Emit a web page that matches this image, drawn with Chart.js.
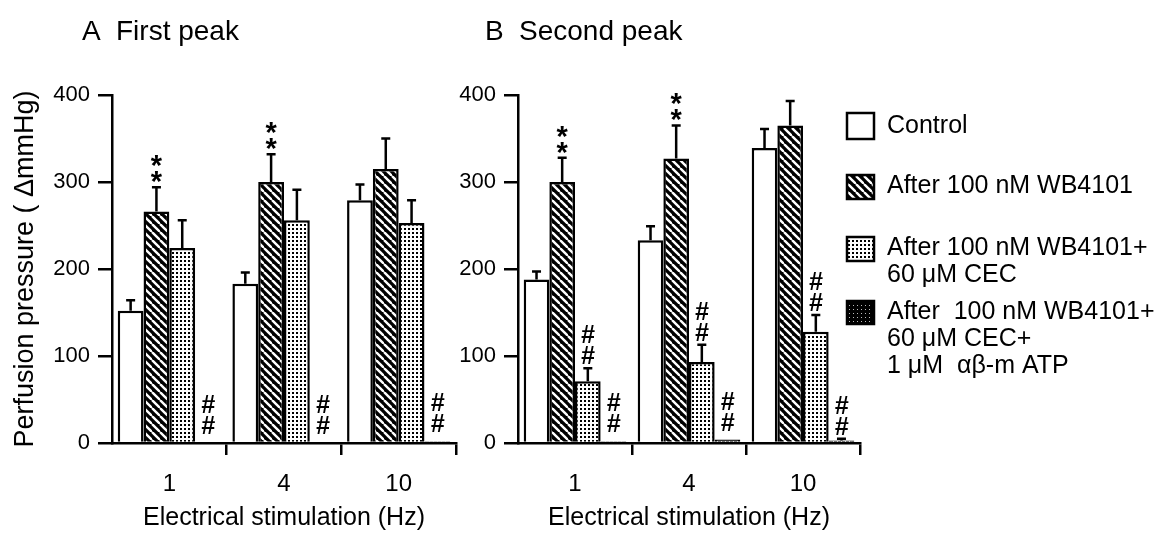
<!DOCTYPE html>
<html><head><meta charset="utf-8">
<script src="https://cdn.jsdelivr.net/npm/chart.js@4/dist/chart.umd.min.js"></script>
<style>
html,body{margin:0;padding:0;background:#fff;}
#wrap{position:relative;width:1158px;height:533px;overflow:hidden;background:#fff;}
canvas{position:absolute;top:0;}
#cA{left:0;} #cB{left:440px;}
</style></head><body>
<div id="wrap"><canvas id="cA" width="480" height="533"></canvas><canvas id="cB" width="718" height="533"></canvas></div>
<script>
// ---- data ----
const categories = ['1', '4', '10'];
const yTicks = [0, 100, 200, 300, 400];
const seriesNames = ['Control', 'After 100 nM WB4101', 'After 100 nM WB4101+ 60 μM CEC', 'After 100 nM WB4101+ 60 μM CEC+ 1 μM αβ-m ATP'];
const legendLines = [
  ['Control'],
  ['After 100 nM WB4101'],
  ['After 100 nM WB4101+', '60 μM CEC'],
  ['After  100 nM WB4101+', '60 μM CEC+', '1 μM  αβ-m ATP']
];
const titleA = ['A', 'First peak'];
const titleB = ['B', 'Second peak'];
const yTitle = 'Perfusion pressure ( ΔmmHg)';
const xTitle = 'Electrical stimulation (Hz)';

// Panel A: first peak
const A_control = [152, 183, 279];
const A_controlErr = [12, 13, 18];
const A_wb = [266, 300, 315];
const A_wbErr = [28, 32, 35];
const A_cec = [224, 256, 253];
const A_cecErr = [32, 35, 26];
const A_atp = [0, 0, 2];
const A_atpErr = [0, 0, 0];
const A_wbMarks = ['**', '**', ''];
const A_atpMarks = ['##', '##', '##'];

// Panel B: second peak
const B_control = [188, 233, 339];
const B_controlErr = [9, 16, 22];
const B_wb = [300, 327, 365];
const B_wbErr = [28, 38, 28];
const B_cec = [71, 93, 128];
const B_cecErr = [15, 20, 19];
const B_atp = [2, 4, 3];
const B_atpErr = [0, 0, 2];
const B_wbMarks = ['**', '**', ''];
const B_cecMarks = ['##', '##', '##'];
const B_atpMarks = ['##', '##', '##'];

// ---- patterns ----
const FONT = '"Liberation Sans", Arial, Helvetica, sans-serif';
function makeTile(w, h, draw) {
  const c = document.createElement('canvas'); c.width = w; c.height = h;
  const g = c.getContext('2d'); draw(g, w, h);
  return document.createElement('canvas').getContext('2d').createPattern(c, 'repeat');
}
const patWhite = '#ffffff';
const patHatch = makeTile(8, 8, (g, s) => {
  g.fillStyle = '#000'; g.fillRect(0, 0, s, s);
  g.strokeStyle = '#fff'; g.lineWidth = 2.4;
  for (const k of [-s, 0, s]) { g.beginPath(); g.moveTo(k, 0); g.lineTo(k + s, s); g.stroke(); }
});
const patDots = makeTile(4, 4, (g) => {
  g.fillStyle = '#fff'; g.fillRect(0, 0, 4, 4);
  g.fillStyle = '#000'; g.fillRect(0, 0, 2, 2);
});
const patDark = makeTile(4, 4, (g) => {
  g.fillStyle = '#000'; g.fillRect(0, 0, 4, 4);
  g.fillStyle = '#bbb'; g.fillRect(1, 1, 1, 1);
});
const fills = [patWhite, patHatch, patDots, patDark];

// ---- plugins ----
function drawStack(ctx, marks, x, bottom) {
  const chars = marks.split('');
  const isStar = chars[0] === '*';
  ctx.font = isStar ? 'bold 29px ' + FONT : 'italic bold 25px ' + FONT;
  ctx.textAlign = 'center'; ctx.textBaseline = 'alphabetic'; ctx.fillStyle = '#000';
  let b = bottom;
  for (const ch of chars) {
    const m = ctx.measureText(ch);
    const base = b - m.actualBoundingBoxDescent;
    ctx.fillText(ch, x, base);
    b = base - m.actualBoundingBoxAscent - (isStar ? 4 : 3);
  }
}
const errMarks = {
  id: 'errMarks',
  afterDatasetsDraw(chart) {
    const ctx = chart.ctx, y = chart.scales.y;
    chart.data.datasets.forEach((ds, di) => {
      const meta = chart.getDatasetMeta(di);
      meta.data.forEach((bar, i) => {
        const v = ds.data[i], e = (ds.err || [])[i] || 0;
        const top = y.getPixelForValue(v + e);
        if (e > 0) {
          ctx.save(); ctx.strokeStyle = '#000'; ctx.lineWidth = 2.5;
          ctx.beginPath(); ctx.moveTo(bar.x, bar.y); ctx.lineTo(bar.x, top);
          ctx.moveTo(bar.x - 4.5, top); ctx.lineTo(bar.x + 4.5, top); ctx.stroke(); ctx.restore();
        }
        const mk = (ds.marks || [])[i];
        if (mk) { ctx.save(); drawStack(ctx, mk, bar.x, top - (e > 0 ? 4 : 9)); ctx.restore(); }
      });
    });
  }
};
const panelTitle = {
  id: 'panelTitle',
  afterDraw(chart, args, opts) {
    const ctx = chart.ctx; ctx.save();
    ctx.font = '28px ' + FONT; ctx.fillStyle = '#000'; ctx.textAlign = 'left'; ctx.textBaseline = 'alphabetic';
    const x0 = chart.chartArea.left + opts.dx;
    ctx.fillText(opts.text[0], x0, 40);
    ctx.fillText(opts.text[1], x0 + 34, 40);
    ctx.restore();
  }
};
const sideLegend = {
  id: 'sideLegend',
  afterDraw(chart, args, opts) {
    if (!opts.show) return;
    const ctx = chart.ctx; ctx.save();
    const bx = chart.chartArea.right - 13;
    const boxTops = [113, 175, 237, 301];
    const boxH = [26, 24, 24, 23];
    const textY = [126, 186, 248, 312];
    legendLines.forEach((lines, k) => {
      ctx.fillStyle = fills[k];
      ctx.fillRect(bx, boxTops[k], 27, boxH[k]);
      ctx.strokeStyle = '#000'; ctx.lineWidth = 2.5;
      ctx.strokeRect(bx, boxTops[k], 27, boxH[k]);
      ctx.fillStyle = '#000'; ctx.font = '25px ' + FONT; ctx.textAlign = 'left'; ctx.textBaseline = 'middle';
      lines.forEach((t, j) => ctx.fillText(t, bx + 40, textY[k] + j * 27));
    });
    ctx.restore();
  }
};

function makeDatasets(vals, errs, marks) {
  return vals.map((v, k) => ({
    label: seriesNames[k], data: v, err: errs[k], marks: marks[k],
    backgroundColor: fills[k], borderColor: '#000', borderWidth: 2.5,
    categoryPercentage: 0.9, barPercentage: 1.0
  }));
}

function makeChart(id, datasets, opt) {
  return new Chart(document.getElementById(id), {
    type: 'bar',
    data: { labels: categories, datasets },
    plugins: [errMarks, panelTitle, sideLegend],
    options: {
      responsive: false, animation: false, devicePixelRatio: 1,
      layout: { padding: { top: 95, right: opt.padRight, left: 0, bottom: 0 } },
      plugins: {
        legend: { display: false }, tooltip: { enabled: false }, title: { display: false },
        panelTitle: { text: opt.title, dx: opt.titleDx },
        sideLegend: { show: opt.legend }
      },
      scales: {
        x: {
          grid: { drawOnChartArea: false, tickLength: 12, lineWidth: 2.5,
                  color: (c) => (c.index === 0 ? 'rgba(0,0,0,0)' : '#000') },
          border: { display: true, color: '#000', width: 2.5 },
          ticks: { color: '#000', font: { family: FONT, size: 24 }, padding: 15 },
          title: { display: true, text: xTitle, color: '#000', font: { family: FONT, size: 25 }, padding: { top: 0, bottom: 0 } },
          afterFit: (s) => { s.height = 90; }
        },
        y: {
          min: yTicks[0], max: yTicks[yTicks.length - 1],
          ticks: { stepSize: yTicks[1] - yTicks[0], color: '#000', font: { family: FONT, size: 22 }, padding: 8 },
          grid: { drawOnChartArea: false, tickLength: 14, lineWidth: 2.5, color: '#000' },
          border: { display: true, color: '#000', width: 2.5 },
          title: { display: opt.yTitle, text: yTitle, color: '#000', font: { family: FONT, size: 27 }, padding: { top: 9, bottom: 0 } },
          afterFit: (s) => { s.width = opt.yWidth; }
        }
      }
    }
  });
}

makeChart('cA',
  makeDatasets([A_control, A_wb, A_cec, A_atp], [A_controlErr, A_wbErr, A_cecErr, A_atpErr], [[], A_wbMarks, [], A_atpMarks]),
  { title: titleA, titleDx: -30, padRight: 24, yWidth: 112, yTitle: true, legend: false });
makeChart('cB',
  makeDatasets([B_control, B_wb, B_cec, B_atp], [B_controlErr, B_wbErr, B_cecErr, B_atpErr], [[], B_wbMarks, B_cecMarks, B_atpMarks]),
  { title: titleB, titleDx: -33, padRight: 298, yWidth: 78, yTitle: false, legend: true });
</script>
</body></html>
